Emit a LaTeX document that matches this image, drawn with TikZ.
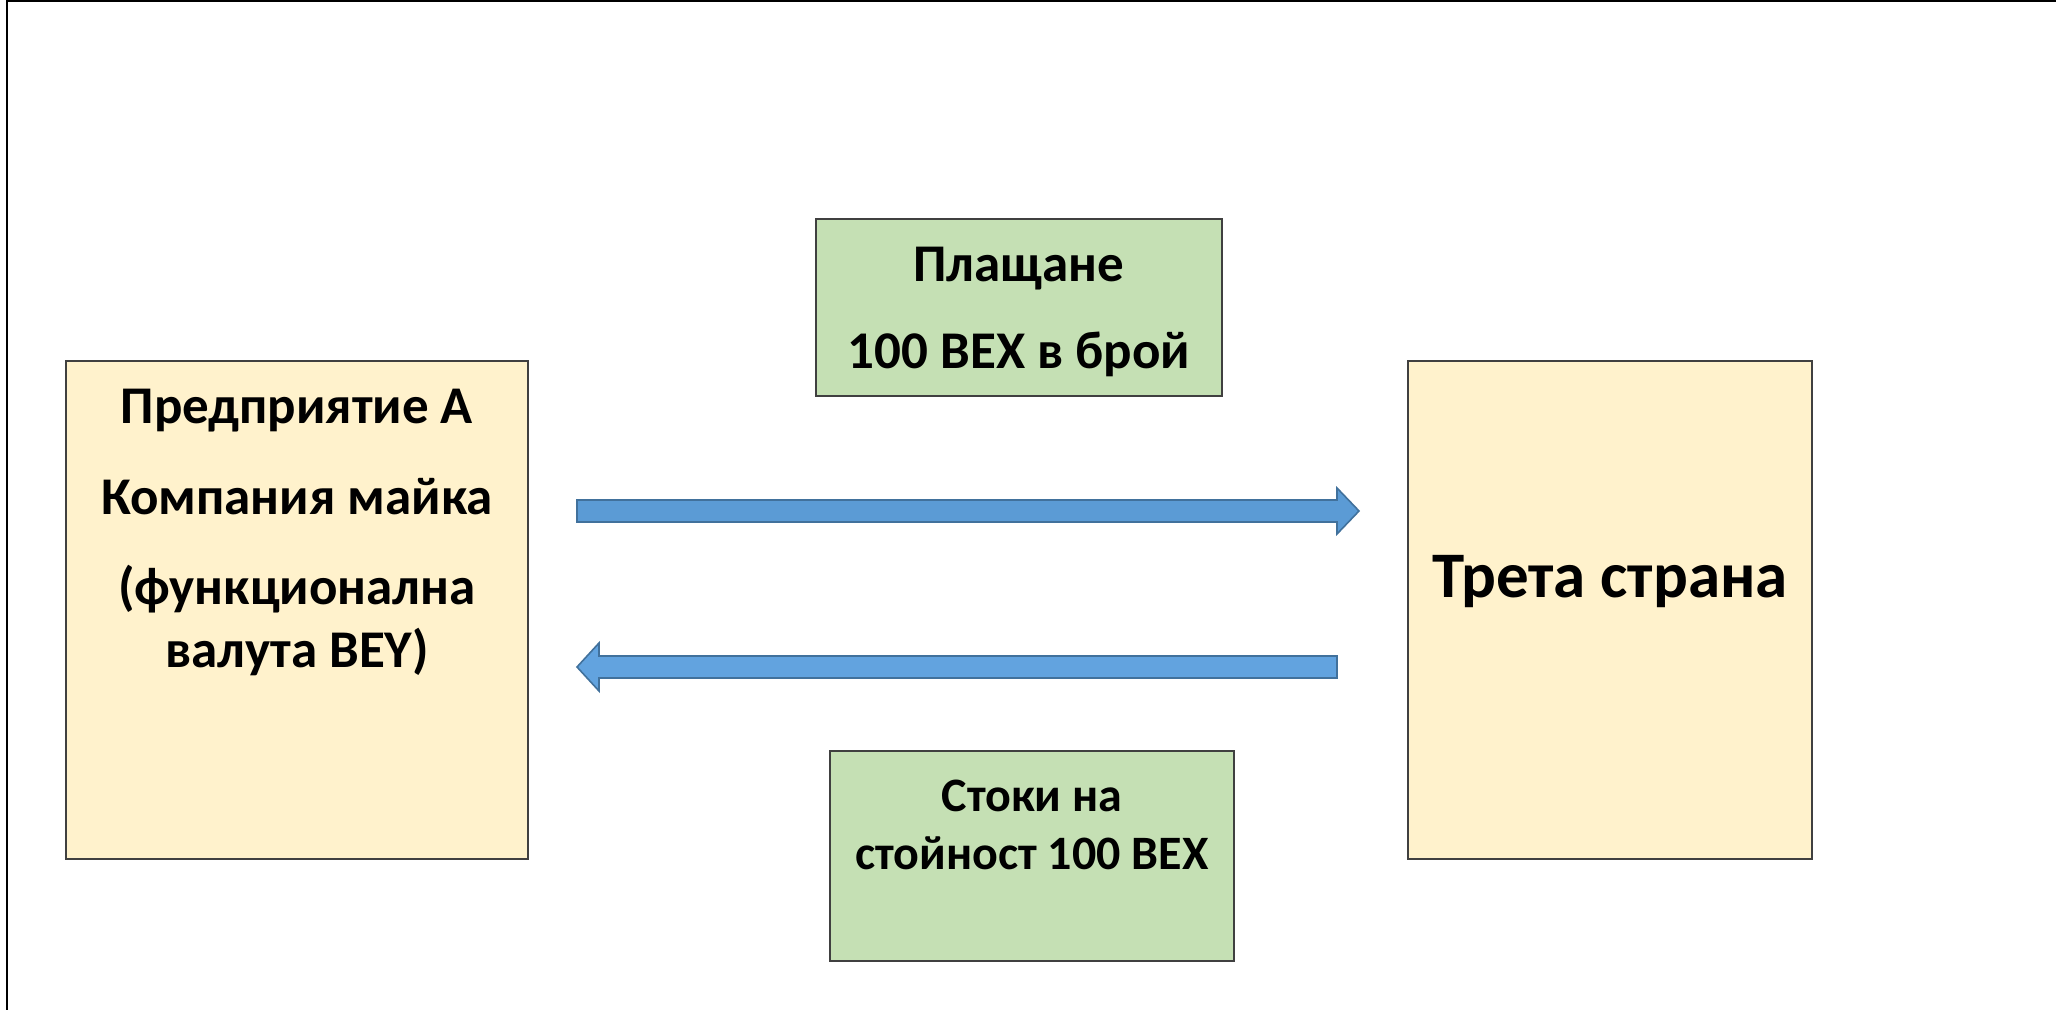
\documentclass[tikz,border=0pt]{standalone}
\usepackage{fontspec}
\setmainfont{Carlito}
\usetikzlibrary{positioning}
\definecolor{boxyellow}{HTML}{FFF2CC}
\definecolor{boxgreen}{HTML}{C5E0B4}
\definecolor{boxedge}{HTML}{404040}
\definecolor{arrowblue}{HTML}{5B9BD5}
\definecolor{arrowbluelt}{HTML}{62A3DF}
\definecolor{arrowedge}{HTML}{41719C}
\tikzset{
  party/.style={draw=boxedge, line width=0.75pt, fill=boxyellow, inner sep=0pt},
  deal/.style={draw=boxedge, line width=0.75pt, fill=boxgreen, inner sep=0pt},
  txt/.style={anchor=base, inner sep=0pt, font=\bfseries\fontsize{26.5}{32}\selectfont},
  txtbig/.style={txt, font=\bfseries\fontsize{32.5}{39}\selectfont},
  txtsmall/.style={txt, font=\bfseries\fontsize{24}{29}\selectfont},
  flow/.style={draw=arrowedge, line width=0.8pt, line join=miter}
}
\begin{document}
\begin{tikzpicture}[x=0.5pt,y=-0.5pt]
\useasboundingbox (0,0) rectangle (2056,1010);
\draw[line width=1pt] (7,1010) -- (7,0.8) -- (2056,0.8);
%% boxes
\node[party, minimum width=231pt, minimum height=249pt] (entA) at (297,610) {};
\node[party, minimum width=202pt, minimum height=249pt] (third) at (1610,610) {};
\node[deal, minimum width=203pt, minimum height=88.5pt] (pay) at (1019,307.5) {};
\node[deal, minimum width=202pt, minimum height=105pt] (goods) at (1032,856) {};
%% arrows
\draw[flow, fill=arrowblue] (577,500) -- (1337,500) -- (1337,488) -- (1359,511) -- (1337,534) -- (1337,522) -- (577,522) -- cycle;
\draw[flow, fill=arrowbluelt] (1337,656) -- (599,656) -- (599,643) -- (577,667) -- (599,691) -- (599,678) -- (1337,678) -- cycle;
%% texts
\node[txt] (entA1) at (entA |- 0,423) {Предприятие А};
\node[txt] (entA2) at (entA |- 0,514) {Компания майка};
\node[txt] (entA3) at (entA |- 0,604) {(функционална};
\node[txt] (entA4) at (entA |- 0,667) {валута BEY)};
\node[txtbig] (third1) at (third |- 0,597) {Трета страна};
\node[txt] (pay1) at (pay |- 0,282) {Плащане};
\node[txt] (pay2) at (pay |- 0,369) {100 BEX в брой};
\node[txtsmall] (goods1) at (goods |- 0,811) {Стоки на};
\node[txtsmall] (goods2) at (goods |- 0,869) {стойност 100 BEX};
\end{tikzpicture}
\end{document}
